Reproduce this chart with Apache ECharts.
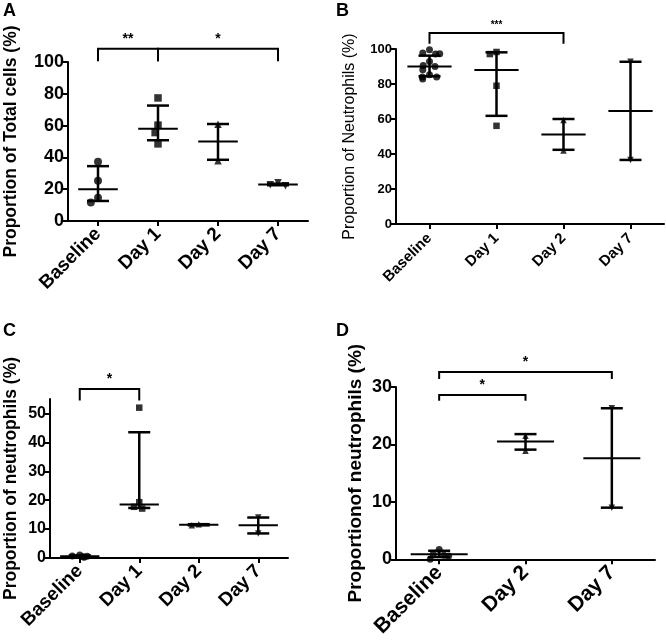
<!DOCTYPE html>
<html>
<head>
<meta charset="utf-8">
<script src="https://cdn.jsdelivr.net/npm/echarts@6/dist/echarts.min.js"></script>
<style>
html, body { margin: 0; padding: 0; background: #fff; }
#chart { width: 666px; height: 640px; }
</style>
</head>
<body>
<div id="chart"></div>
<script>
// A: total cells
const catsA = ['Baseline', 'Day 1', 'Day 2', 'Day 7'];
const pointsA = [[37.3, 25.3, 14.6, 11.7], [77.4, 60.3, 55.6, 48.5], [60.9, 37.9], [24, 22.8, 22.2]];
const barsA = [[20, 12.6, 34.5], [58, 50.8, 72.6], [50, 38.5, 61], [23, 22.5, 23.5]]; // median, low, high
const sigA = [[0, 1, 108.4, 100.5, '**'], [1, 3, 108.4, 100.5, '*']];

// B: neutrophils
const catsB = ['Baseline', 'Day 1', 'Day 2', 'Day 7'];
const pointsB = [[99.6, 97.7, 97.1, 97.3, 92.9, 90.6, 90, 88.2, 85.3, 84, 84, 82.8], [98.3, 97.1, 79, 56.1], [59.5, 42], [92.7, 36.6]];
const barsB = [[90, 84.4, 96.2], [88, 61.8, 98.1], [51.2, 42.4, 60], [64.6, 36.6, 92.7]];
const sigB = [[0, 2, 109.2, 103, '***']];

// C
const catsC = ['Baseline', 'Day 1', 'Day 2', 'Day 7'];
const pointsC = [[1.0, 0.7, 0.6, 0.4, 0.3], [52, 19.3, 17.7, 17.1], [11.7, 11.3], [14, 8.5]];
const barsC = [[0.6, 0.3, 0.9], [18.5, 17.3, 43.5], [11.5, 11.3, 11.7], [11.3, 8.5, 14]];
const sigC = [[0, 1, 58.5, 54.5, '*']];
const ticksC = [0, 10, 20, 30, 40, 50];

// D
const catsD = ['Baseline', 'Day 2', 'Day 7'];
const pointsD = [[1.7, 0.9, 0.7, 0.6, 0], [21.5, 18.9], [26.3, 9]];
const barsD = [[0.9, 0.4, 1.5], [20.5, 19.1, 21.8], [17.6, 9, 26.3]];
const sigD = [[0, 1, 28.6, 27.6, '*'], [0, 2, 32.6, 31.4, '*']];

const FONT = 'Liberation Sans, Arial, sans-serif';

const panels = [
  { letter: 'A', cats: catsA, points: pointsA, bars: barsA, sig: sigA, symbols: ['circle', 'rect', 'triangle', 'triangle-down'],
    grid: { left: 68, top: 62, width: 240, height: 159 }, max: 100, interval: 20,
    name: 'Proportion of Total cells (%)', nameBold: true, nameSize: 17.5, nameGap: 48,
    tickSize: 18, xSize: 19, xMargin: 10, symSize: 8, starSize: 14, lx: 3, ly: 2 },
  { letter: 'B', cats: catsB, points: pointsB, bars: barsB, sig: sigB, symbols: ['circle', 'rect', 'triangle', 'triangle-down'],
    grid: { left: 396, top: 49, width: 268, height: 175 }, max: 100, interval: 20,
    name: 'Proportion of Neutrophils (%)', nameBold: false, nameSize: 16, nameGap: 38,
    tickSize: 13, xSize: 15, xMargin: 12, symSize: 7, starSize: 10, lx: 336, ly: 2 },
  { letter: 'C', cats: catsC, points: pointsC, bars: barsC, sig: sigC, symbols: ['circle', 'rect', 'triangle', 'triangle-down'],
    grid: { left: 50, top: 399, width: 238, height: 159 }, max: 55, custom: ticksC,
    name: 'Proportion of neutrophils (%)', nameBold: true, nameSize: 17.5, nameGap: 30,
    tickSize: 16, xSize: 19, xMargin: 10, symSize: 7, starSize: 14, lx: 3, ly: 322 },
  { letter: 'D', cats: catsD, points: pointsD, bars: barsD, sig: sigD, symbols: ['circle', 'triangle', 'triangle-down'],
    grid: { left: 396, top: 387, width: 259, height: 175 }, max: 30, interval: 10,
    name: 'Proportionof neutrophils (%)', nameBold: true, nameSize: 19, nameGap: 31,
    tickSize: 18, xSize: 21, xMargin: 10, symSize: 7, starSize: 14, lx: 336, ly: 322 }
];

const axisLine = { show: true, lineStyle: { color: '#000', width: 2 } };
const axisTick = { show: true, length: 5, lineStyle: { color: '#000', width: 2 } };

const option = {
  animation: false,
  backgroundColor: '#fff',
  title: panels.map(p => ({
    text: p.letter, left: p.lx, top: p.ly, padding: 0,
    textStyle: { fontFamily: FONT, fontWeight: 'bold', fontSize: 18, color: '#000' }
  })),
  grid: panels.map(p => p.grid),
  xAxis: panels.map((p, i) => ({
    type: 'category', gridIndex: i, data: p.cats,
    jitter: 22, jitterOverlap: false, jitterMargin: 0.5,
    axisLine, axisTick: Object.assign({ alignWithLabel: true }, axisTick),
    axisLabel: { rotate: 45, margin: p.xMargin, color: '#000', fontFamily: FONT, fontWeight: 'bold', fontSize: p.xSize, interval: 0 },
    splitLine: { show: false }
  })),
  yAxis: panels.map((p, i) => {
    const ax = {
      type: 'value', gridIndex: i, min: 0, max: p.max,
      name: p.name, nameLocation: 'middle', nameGap: p.nameGap,
      nameTextStyle: { fontFamily: FONT, fontWeight: p.nameBold ? 'bold' : 'normal', fontSize: p.nameSize, color: '#000' },
      axisLine, axisTick: Object.assign({}, axisTick),
      axisLabel: { margin: 4, color: '#000', fontFamily: FONT, fontWeight: 'bold', fontSize: p.tickSize },
      splitLine: { show: false }
    };
    if (p.custom) {
      ax.axisLabel.customValues = p.custom;
      ax.axisTick.customValues = p.custom;
    } else {
      ax.interval = p.interval;
    }
    return ax;
  }),
  series: []
};

panels.forEach((p, idx) => {
  // dots
  p.points.forEach((vals, i) => {
    const sym = p.symbols[i];
    option.series.push({
      type: 'scatter', xAxisIndex: idx, yAxisIndex: idx,
      symbol: sym === 'triangle-down' ? 'triangle' : sym,
      symbolRotate: sym === 'triangle-down' ? 180 : 0,
      symbolSize: sym === 'circle' ? p.symSize : p.symSize - 0.5,
      itemStyle: { color: '#000' },
      data: vals.map(v => [i, v]),
      z: 4
    });
  });
  // median + range bars
  option.series.push({
    type: 'custom', xAxisIndex: idx, yAxisIndex: idx,
    data: p.bars.map((b, i) => [i, b[0], b[1], b[2]]),
    renderItem(params, api) {
      const band = api.size([1, 0])[0];
      const m = api.coord([api.value(0), api.value(1)]);
      const lo = api.coord([api.value(0), api.value(2)]);
      const hi = api.coord([api.value(0), api.value(3)]);
      const x = m[0], w = band * 0.33, c = 11;
      const st = { stroke: '#000', lineWidth: 2.5 };
      return {
        type: 'group', children: [
          { type: 'line', shape: { x1: x - w, y1: m[1], x2: x + w, y2: m[1] }, style: { stroke: '#000', lineWidth: 2 } },
          { type: 'line', shape: { x1: x, y1: lo[1], x2: x, y2: hi[1] }, style: st },
          { type: 'line', shape: { x1: x - c, y1: lo[1], x2: x + c, y2: lo[1] }, style: st },
          { type: 'line', shape: { x1: x - c, y1: hi[1], x2: x + c, y2: hi[1] }, style: st }
        ]
      };
    },
    z: 3
  });
  // significance brackets
  option.series.push({
    type: 'custom', xAxisIndex: idx, yAxisIndex: idx, clip: false,
    data: p.sig.map(s => [s[0], 0, s[1], s[2], s[3]]),
    renderItem(params, api) {
      const s = p.sig[params.dataIndex];
      const a = api.coord([s[0], s[2]]);
      const b = api.coord([s[1], s[2]]);
      const t = api.coord([s[0], s[3]]);
      return {
        type: 'group', children: [
          { type: 'polyline', shape: { points: [[a[0], t[1]], a, b, [b[0], t[1]]] },
            style: { stroke: '#000', fill: null, lineWidth: 2 } },
          { type: 'text', x: (a[0] + b[0]) / 2, y: a[1] - 3,
            style: { text: s[4], align: 'center', verticalAlign: 'bottom',
              font: 'bold ' + p.starSize + 'px ' + FONT, fill: '#000' } }
        ]
      };
    },
    z: 5
  });
});

const chart = echarts.init(document.getElementById('chart'), null, { renderer: 'canvas' });
chart.setOption(option);
</script>
</body>
</html>
